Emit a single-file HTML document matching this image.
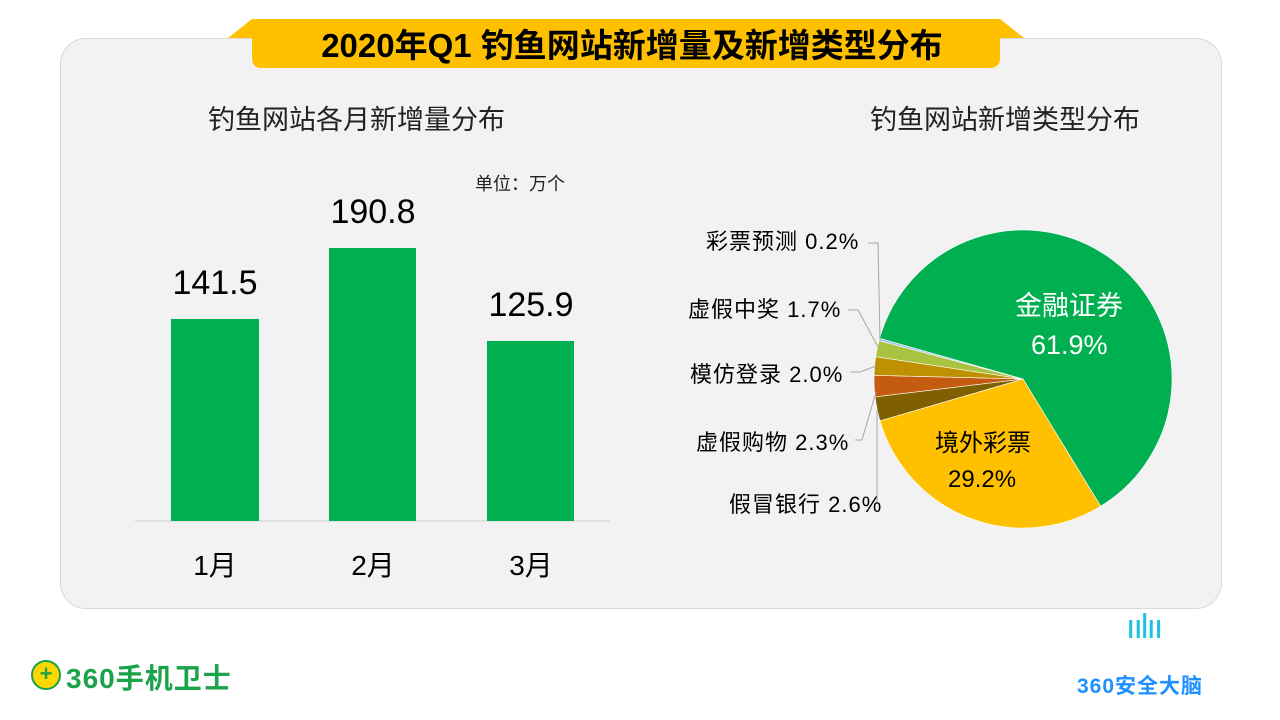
<!DOCTYPE html>
<html><head><meta charset="utf-8"><style>
body{margin:0;width:1280px;height:720px;background:#fff;position:relative;overflow:hidden;font-family:"Liberation Sans","Noto Sans CJK SC",sans-serif;}
.t{position:absolute;white-space:nowrap;}
.l{font-size:22px;letter-spacing:1px;}
</style></head><body>
<div style="position:absolute;left:60px;top:38px;width:1160px;height:569px;background:#f2f2f2;border:1px solid #d9d9d9;border-radius:26px;"></div>
<svg style="position:absolute;left:0;top:0" width="1280" height="720">
<polygon points="252,19 1000,19 1024,38 228,38" fill="#ffc000"/>
<path d="M252,19 H1000 V58 Q1000,68 990,68 H262 Q252,68 252,58 Z" fill="#ffc000"/>
<line x1="135" y1="521" x2="610" y2="521" stroke="#d0d0d0" stroke-width="1"/>
<rect x="171" y="319" width="88" height="202" fill="#00b050"/>
<rect x="329" y="248" width="87" height="273" fill="#00b050"/>
<rect x="487" y="341" width="87" height="180" fill="#00b050"/>
<g id="pie"></g>
<g stroke="#a6a6a6" stroke-width="1" fill="none">
<polyline points="868,243 878,243 880,340"/>
<polyline points="848,310 858,310 878,347"/>
<polyline points="850,372 860,372 876,366"/>
<polyline points="855,440 862,440 876,392"/>
<polyline points="877,502 877,410"/>
</g>
</svg>
<div class="t" style="left:0;top:19px;width:1264px;text-align:center;font-size:33px;font-weight:bold;color:#000;">2020年Q1 钓鱼网站新增量及新增类型分布</div>
<div class="t" style="left:208px;top:98px;font-size:27px;color:#222;">钓鱼网站各月新增量分布</div>
<div class="t" style="left:870px;top:98px;font-size:27px;color:#222;">钓鱼网站新增类型分布</div>
<div class="t" style="left:475px;top:170px;font-size:18px;color:#222;">单位：万个</div>
<div class="t" style="left:165px;top:264px;width:100px;text-align:center;font-size:34px;">141.5</div>
<div class="t" style="left:323px;top:193px;width:100px;text-align:center;font-size:34px;">190.8</div>
<div class="t" style="left:481px;top:286px;width:100px;text-align:center;font-size:34px;">125.9</div>
<div class="t" style="left:165px;top:544px;width:100px;text-align:center;font-size:28px;">1月</div>
<div class="t" style="left:323px;top:544px;width:100px;text-align:center;font-size:28px;">2月</div>
<div class="t" style="left:481px;top:544px;width:100px;text-align:center;font-size:28px;">3月</div>
<div class="t l" style="left:706px;top:224px;">彩票预测 0.2%</div>
<div class="t l" style="left:688px;top:292px;">虚假中奖 1.7%</div>
<div class="t l" style="left:690px;top:357px;">模仿登录 2.0%</div>
<div class="t l" style="left:696px;top:425px;">虚假购物 2.3%</div>
<div class="t l" style="left:729px;top:487px;">假冒银行 2.6%</div>
<div class="t" style="left:1015px;top:284px;font-size:27px;color:#fff;">金融证券</div>
<div class="t" style="left:1031px;top:330px;font-size:27px;color:#fff;">61.9%</div>
<div class="t" style="left:935px;top:423px;font-size:24px;color:#000;">境外彩票</div>
<div class="t" style="left:948px;top:466px;font-size:24px;color:#000;">29.2%</div>
<div style="position:absolute;left:31px;top:660px;width:30px;height:30px;border-radius:50%;background:#ffd700;border:2px solid #1aa34a;box-sizing:border-box;color:#1aa34a;font-weight:bold;font-size:22px;line-height:24px;text-align:center;">+</div>
<div class="t" style="left:66px;top:657px;font-size:28px;font-weight:bold;color:#1aa34a;letter-spacing:1px;">360手机卫士</div>
<div class="t" style="left:1126px;top:608px;font-size:34px;color:#1ec0e0;letter-spacing:-2px;">ıılıı</div>
<div class="t" style="left:1077px;top:670px;font-size:21px;font-weight:bold;color:#1e90ff;letter-spacing:1px;">360安全大脑</div>
<script>
var cx=1023,cy=379,r=149;
var s=[[285.8,148.6+360,"#00b050"],[148.6,253.7,"#ffc000"],[253.7,263.1,"#7f6000"],[263.1,271.4,"#c55a11"],[271.4,278.6,"#bf9000"],[278.6,284.9,"#a9c23f"],[284.9,285.8,"#9dc3e6"]];
var g=document.getElementById("pie"),h="";
function p(a){a=a*Math.PI/180;return (cx+r*Math.sin(a)).toFixed(2)+","+(cy-r*Math.cos(a)).toFixed(2);}
s.forEach(function(d){var large=(d[1]-d[0])>180?1:0;h+='<path d="M'+cx+','+cy+' L'+p(d[0])+' A'+r+','+r+' 0 '+large+' 1 '+p(d[1])+' Z" fill="'+d[2]+'" stroke="#fff" stroke-width="0.6"/>';});
g.innerHTML=h;
</script>
</body></html>
